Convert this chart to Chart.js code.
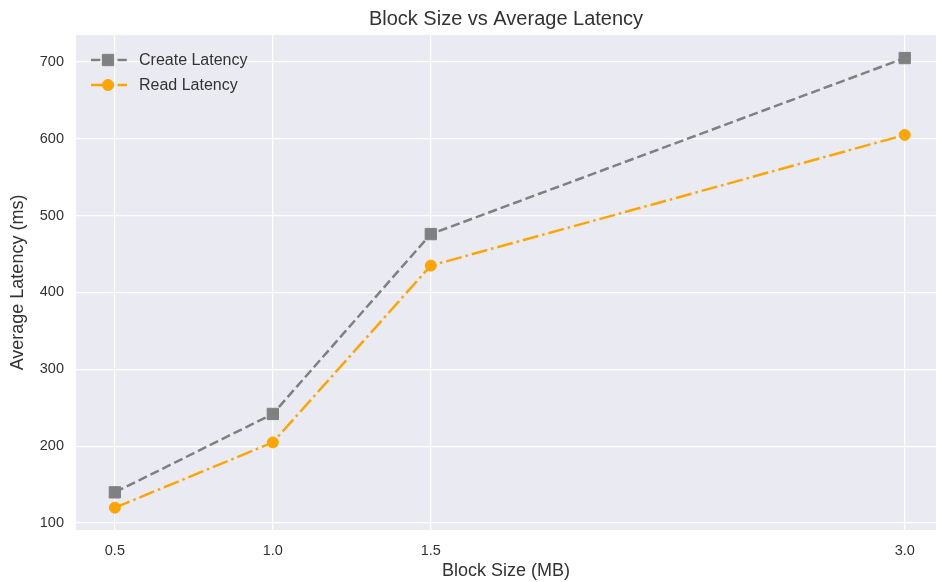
<!DOCTYPE html>
<html>
<head>
<meta charset="utf-8">
<script src="https://cdn.jsdelivr.net/npm/chart.js@4/dist/chart.umd.min.js"></script>
<style>
html,body{margin:0;padding:0;overflow:hidden;background:#fff}
canvas{display:block}
</style>
</head>
<body>
<canvas id="latency" width="936" height="582"></canvas>
<script>
var block_size = [0.5, 1.0, 1.5, 3.0]
var create_latency = [140, 242, 476, 705]
var read_latency = [120, 205, 435, 605]
var x_ticks = [0.5, 1.0, 1.5, 3.0]
var y_ticks = [100, 200, 300, 400, 500, 600, 700]

var font_name = "'Liberation Sans', Arial, sans-serif"
var text_color = '#333333'

function points(ys){
    var out = []
    for(var i=0;i<block_size.length;i++){
        out.push({x:block_size[i], y:ys[i]})
    }
    return out
}

// seaborn-ish grey panel behind the plot
var panel = {
    id:'panel',
    beforeDraw(chart){
        var a = chart.chartArea
        var c = chart.ctx
        c.save()
        c.fillStyle = '#EAEAF2'
        c.fillRect(a.left, a.top, a.right-a.left, a.bottom-a.top)
        c.restore()
    }
}

// matplotlib style legend: line + marker, no frame
var mpl_legend = {
    id:'mpl_legend',
    afterDraw(chart){
        var c = chart.ctx
        var a = chart.chartArea
        var x0 = a.left + 15
        var y0 = a.top + 25
        chart.data.datasets.forEach(function(ds, i){
            var y = y0 + i*25
            var r = ds.pointRadius
            c.save()
            c.strokeStyle = ds.borderColor
            c.lineWidth = ds.borderWidth
            c.setLineDash(ds.borderDash)
            c.beginPath()
            c.moveTo(x0, y)
            c.lineTo(x0+36, y)
            c.stroke()
            c.setLineDash([])
            c.fillStyle = ds.pointBackgroundColor
            c.strokeStyle = ds.pointBorderColor
            c.lineWidth = 1
            c.beginPath()
            if(ds.pointStyle == 'rect'){
                var s = Math.SQRT1_2*r
                c.rect(x0+17-s, y-s, 2*s, 2*s)
            }else{
                c.arc(x0+17, y, r, 0, Math.PI*2)
            }
            c.fill()
            c.stroke()
            c.fillStyle = text_color
            c.font = '16px ' + font_name
            c.textBaseline = 'middle'
            c.fillText(ds.label, x0+48, y+1)
            c.restore()
        })
    }
}

var ctx = document.getElementById('latency').getContext('2d')
var chart1 = new Chart(ctx, {
    type:'line',
    plugins:[panel, mpl_legend],
    data:{
        datasets:[{
            label:'Create Latency',
            data:points(create_latency),
            borderColor:'#808080',
            backgroundColor:'#808080',
            pointBackgroundColor:'#808080',
            pointBorderColor:'#808080',
            borderWidth:2.5,
            borderDash:[9.25, 4],
            pointStyle:'rect',
            pointRadius:8,
            pointBorderWidth:1,
            tension:0
        },{
            label:'Read Latency',
            data:points(read_latency),
            borderColor:'#FFA500',
            backgroundColor:'#FFA500',
            pointBackgroundColor:'#FFA500',
            pointBorderColor:'#FFA500',
            borderWidth:2.5,
            borderDash:[16, 4, 2.5, 4],
            pointStyle:'circle',
            pointRadius:5.5,
            pointBorderWidth:1,
            tension:0
        }]
    },
    options:{
        responsive:false,
        animation:false,
        layout:{padding:0, autoPadding:false},
        plugins:{
            legend:{display:false},
            tooltip:{enabled:false},
            title:{
                display:true,
                fullSize:false,
                text:'Block Size vs Average Latency',
                color:text_color,
                font:{family:font_name, size:20, weight:'normal'},
                padding:{top:7, bottom:4}
            }
        },
        scales:{
            x:{
                type:'linear',
                min:0.377,
                max:3.099,
                afterBuildTicks(scale){
                    scale.ticks = x_ticks.map(function(v){ return {value:v} })
                },
                afterFit(scale){
                    scale.height = 52
                    scale.paddingLeft = 0
                    scale.paddingRight = 0
                },
                grid:{color:'#ffffff', lineWidth:1.2, drawTicks:false},
                border:{display:false},
                ticks:{
                    color:text_color,
                    padding:12,
                    font:{family:font_name, size:14.5},
                    callback(v){ return v.toFixed(1) }
                },
                title:{
                    display:true,
                    text:'Block Size (MB)',
                    color:text_color,
                    font:{family:font_name, size:18},
                    padding:{top:0, bottom:0}
                }
            },
            y:{
                type:'linear',
                min:91,
                max:735,
                afterBuildTicks(scale){
                    scale.ticks = y_ticks.map(function(v){ return {value:v} })
                },
                afterFit(scale){ scale.width = 76 },
                grid:{color:'#ffffff', lineWidth:1.2, drawTicks:false},
                border:{display:false},
                ticks:{
                    color:text_color,
                    padding:12,
                    font:{family:font_name, size:14.5}
                },
                title:{
                    display:true,
                    text:'Average Latency (ms)',
                    color:text_color,
                    font:{family:font_name, size:18},
                    padding:{top:7, bottom:0}
                }
            }
        }
    }
})
</script>
</body>
</html>
